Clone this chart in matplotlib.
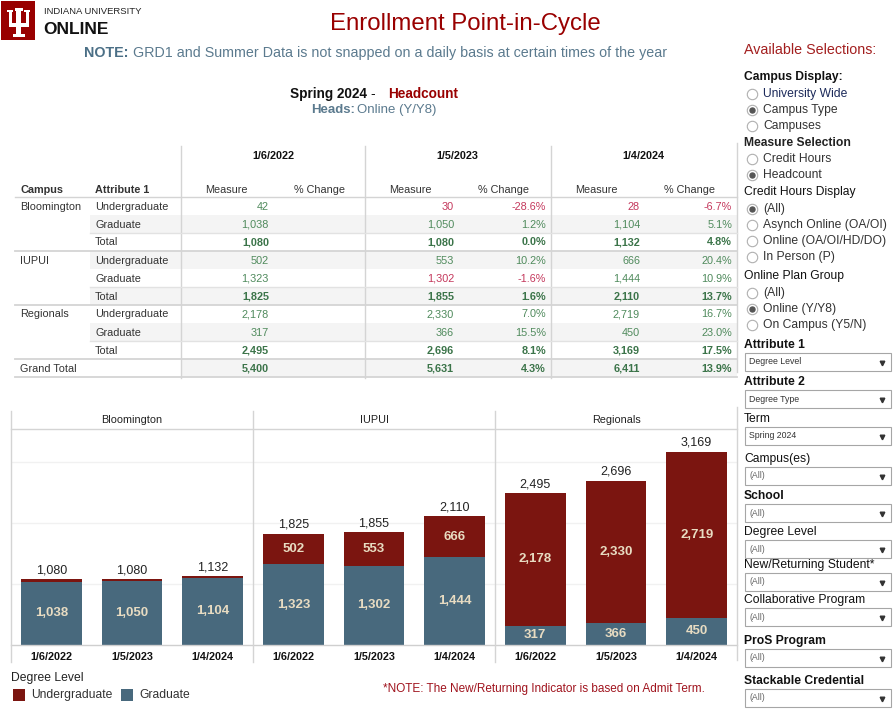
import matplotlib.pyplot as plt
from matplotlib.lines import Line2D
from matplotlib.patches import Rectangle

plt.rcParams['font.family'] = ['Liberation Sans', 'DejaVu Sans']

# ---- data ----
campuses = ["Bloomington", "IUPUI", "Regionals"]
snap_dates = ["1/6/2022", "1/5/2023", "1/4/2024"]
undergrad_bloomington = [42, 30, 28]
graduate_bloomington = [1038, 1050, 1104]
undergrad_iupui = [502, 553, 666]
graduate_iupui = [1323, 1302, 1444]
undergrad_regionals = [2178, 2330, 2719]
graduate_regionals = [317, 366, 450]

undergrad_by_campus = [undergrad_bloomington, undergrad_iupui, undergrad_regionals]
graduate_by_campus = [graduate_bloomington, graduate_iupui, graduate_regionals]

UG_COLOR = "#7b1510"
GR_COLOR = "#48697d"
IU_RED = "#990000"
GREEN = "#4f8a5c"
GREEN_BOLD = "#3b7449"
NEG_RED = "#c4385c"
LABEL = "#333333"
LINE = "#d4d4d4"
BAND = "#f4f4f4"

W, H = 896, 719
fig = plt.figure(figsize=(W / 100, H / 100), dpi=100)


def fx(x):
    return x / W


def fy(y):
    return 1 - y / H


def txt(x, y, s, **kw):
    kw.setdefault("va", "center")
    kw.setdefault("color", LABEL)
    return fig.text(fx(x), fy(y), s, **kw)


def hline(x0, x1, y, color=LINE, lw=1.0):
    fig.add_artist(Line2D([fx(x0), fx(x1)], [fy(y), fy(y)], color=color, lw=lw,
                          transform=fig.transFigure))


def vline(x, y0, y1, color=LINE, lw=1.0):
    fig.add_artist(Line2D([fx(x), fx(x)], [fy(y0), fy(y1)], color=color, lw=lw,
                          transform=fig.transFigure))


def rect(x0, y0, x1, y1, **kw):
    fig.add_artist(Rectangle((fx(x0), fy(y1)), fx(x1) - fx(x0), fy(y0) - fy(y1),
                             transform=fig.transFigure, **kw))


# ---- header / logo ----
rect(1, 1, 35, 40, facecolor=IU_RED, edgecolor="none")
for (a, b, c, d) in [(14.5, 8, 22.5, 10.5), (16, 10.5, 21, 34), (12.5, 34, 24.5, 37),
                     (7, 10, 13, 12), (8.5, 12, 11.5, 26), (24, 10, 30, 12),
                     (25.5, 12, 28.5, 26), (8.5, 23, 28.5, 27)]:
    rect(a, b, c, d, facecolor="white", edgecolor="none")
txt(44, 12, "INDIANA UNIVERSITY", fontsize=6.8, color="#222222")
txt(43, 30, "ONLINE", fontsize=12.5, fontweight="bold", color="#111111")

txt(465, 24, "Enrollment Point-in-Cycle", fontsize=17.3, color=IU_RED, ha="center")
txt(84, 53, "NOTE:", fontsize=10.3, fontweight="bold", color="#4b6f86")
txt(133, 53, "GRD1 and Summer Data is not snapped on a daily basis at certain times of the year",
    fontsize=10.3, color="#5b7a8e")

txt(290, 94, "Spring 2024", fontsize=9.8, fontweight="bold", color="#111111")
txt(370, 94, "-", fontsize=9.8, color="#111111")
txt(388, 94, "Headcount", fontsize=9.8, fontweight="bold", color=IU_RED)
txt(311, 110, "Heads:", fontsize=9.5, fontweight="bold", color="#5b7a8e")
txt(357, 110, "Online (Y/Y8)", fontsize=9.5, color="#5b7a8e")

# ---- crosstab ----
FS = 7.8
block_x = [181, 365, 551]
rows = []
for name, ug, gr in zip(campuses, undergrad_by_campus, graduate_by_campus):
    total = [u + g for u, g in zip(ug, gr)]
    rows.append((name, "Undergraduate", ug, False))
    rows.append(("", "Graduate", gr, False))
    rows.append(("", "Total", total, True))
grand = [sum(u[i] + g[i] for u, g in zip(undergrad_by_campus, graduate_by_campus))
         for i in range(len(snap_dates))]
rows.append(("Grand Total", "", grand, True))

row_h = 18
top = 197
for i in range(len(rows)):
    y0 = top + i * row_h
    if i == len(rows) - 1:
        rect(181, y0, 737, y0 + row_h, facecolor=BAND, edgecolor="none")
    elif i % 2 == 1:
        rect(90, y0, 737, y0 + row_h, facecolor=BAND, edgecolor="none")

for bx in block_x:
    vline(bx, 146, 378)
vline(737, 143, 372)
hline(15, 737, 197)
for g in range(3):
    y_sep = top + (g * 3 + 2) * row_h
    hline(90, 737, y_sep, color="#e2e2e2")
    hline(15, 737, y_sep + row_h, color=LINE, lw=1.3)
hline(15, 737, top + 10 * row_h, color=LINE, lw=1.3)

txt(20, 190, "Campus", fontsize=FS, fontweight="bold")
txt(95, 190, "Attribute 1", fontsize=FS, fontweight="bold")
for bx, d in zip(block_x, snap_dates):
    txt(bx + 92, 156, d, fontsize=FS, fontweight="bold", ha="center", color="#111111")
    txt(bx + 45, 190, "Measure", fontsize=FS, ha="center")
    txt(bx + 138, 190, "% Change", fontsize=FS, ha="center")

for i, (camp, attr, vals, bold) in enumerate(rows):
    yc = top + i * row_h + row_h / 2 + 0.5
    if camp:
        txt(20, yc, camp, fontsize=FS)
    if attr:
        txt(95, yc, attr, fontsize=FS)
    weight = "bold" if bold else "normal"
    for j, (bx, v) in enumerate(zip(block_x, vals)):
        if j == 0:
            col = GREEN_BOLD if bold else GREEN
            txt(bx + 88, yc, f"{v:,}", fontsize=FS, ha="right", color=col, fontweight=weight)
            continue
        pct = (v - vals[j - 1]) / vals[j - 1] * 100
        col = NEG_RED if pct < 0 else (GREEN_BOLD if bold else GREEN)
        txt(bx + 89, yc, f"{v:,}", fontsize=FS, ha="right", color=col, fontweight=weight)
        txt(bx + 181, yc, f"{pct:.1f}%", fontsize=FS, ha="right", color=col, fontweight=weight)

# ---- stacked bar panels ----
panel_left = 11
panel_w = 242
base_y = 645
plot_top = 429
ymax = 3541
positions = [0.5, 1.5, 2.5]

for k, (name, ug, gr) in enumerate(zip(campuses, undergrad_by_campus, graduate_by_campus)):
    x0 = panel_left + k * panel_w
    ax = fig.add_axes([fx(x0), fy(base_y), panel_w / W, (base_y - plot_top) / H])
    ax.set_xlim(0, 3)
    ax.set_ylim(0, ymax)
    for gy in (1000, 2000, 3000):
        ax.axhline(gy, color="#f1f1f1", lw=1, zorder=0)
    ax.bar(positions, gr, width=0.75, color=GR_COLOR, zorder=2)
    ax.bar(positions, ug, width=0.75, bottom=gr, color=UG_COLOR, zorder=2)
    for p, u, g in zip(positions, ug, gr):
        ax.text(p, g / 2, f"{g:,}", ha="center", va="center", fontsize=9.5,
                fontweight="bold", color="#e8dcc2", zorder=3)
        if u > 200:
            ax.text(p, g + u / 2, f"{u:,}", ha="center", va="center", fontsize=9.5,
                    fontweight="bold", color="#e8dcc2", zorder=3)
        ax.annotate(f"{u + g:,}", (p, u + g), xytext=(0, 2), textcoords="offset points",
                    ha="center", va="bottom", fontsize=9, color="#222222")
    ax.set_xticks(positions, snap_dates)
    ax.tick_params(axis="x", length=0, pad=5, labelsize=7.8)
    for lab in ax.get_xticklabels():
        lab.set_fontweight("bold")
        lab.set_color("#111111")
    ax.set_yticks([])
    ax.set_frame_on(False)
    txt(x0 + panel_w / 2, 420, name, fontsize=7.8, ha="center", color="#222222")

hline(11, 737, 429)
hline(11, 737, base_y, color="#cfcfcf")
for k in range(3):
    vline(panel_left + k * panel_w, 411, 662)
vline(737, 407, 660)

# legend and footnote
txt(11, 678, "Degree Level", fontsize=8.7, color="#222222")
rect(13, 689, 25, 701, facecolor=UG_COLOR, edgecolor="none")
txt(31, 695, "Undergraduate", fontsize=8.7)
rect(121, 689, 133, 701, facecolor=GR_COLOR, edgecolor="none")
txt(139, 695, "Graduate", fontsize=8.7)
txt(383, 689, "*NOTE: The New/Returning Indicator is based on Admit Term.", fontsize=8.5, color="#a0141e")

# ---- selections panel ----
txt(744, 50, "Available Selections:", fontsize=10.3, color="#a31f1f")


def radio(y, label, selected=False, color=LABEL):
    fig.add_artist(Line2D([fx(752)], [fy(y)], marker="o", markersize=7.5, mfc="white",
                          mec="#b0b0b0", mew=0.8, transform=fig.transFigure))
    if selected:
        fig.add_artist(Line2D([fx(752)], [fy(y)], marker="o", markersize=3.6, mfc="#555555",
                              mec="#555555", transform=fig.transFigure))
    txt(763, y, label, fontsize=8.7, color=color)


def dropdown(y, label, color=LABEL):
    rect(745, y - 9, 891, y + 9, facecolor="white", edgecolor="#a6a6a6", lw=0.8)
    txt(749, y, label, fontsize=6.3, color=color)
    fig.add_artist(Line2D([fx(882)], [fy(y + 0.5)], marker="v", markersize=3.3, color="#333333",
                          transform=fig.transFigure))


txt(744, 77, "Campus Display:", fontsize=8.7, fontweight="bold", color="#111111")
radio(94, "University Wide", color="#1c2a5a")
radio(110, "Campus Type", True)
radio(126, "Campuses")
txt(744, 143, "Measure Selection", fontsize=8.7, fontweight="bold", color="#222222")
radio(159, "Credit Hours")
radio(175, "Headcount", True)
txt(744, 192, "Credit Hours Display", fontsize=8.7, color="#111111")
radio(209, "(All)", True)
radio(225, "Asynch Online (OA/OI)")
radio(241, "Online (OA/OI/HD/DO)")
radio(257, "In Person (P)")
txt(744, 276, "Online Plan Group", fontsize=8.7, color="#111111")
radio(293, "(All)")
radio(309, "Online (Y/Y8)", True)
radio(325, "On Campus (Y5/N)")

filters = [
    (345, "Attribute 1", True, "Degree Level"),
    (382, "Attribute 2", True, "Degree Type"),
    (419, "Term", False, "Spring 2024"),
    (459, "Campus(es)", False, "(All)"),
    (496, "School", True, "(All)"),
    (532, "Degree Level", False, "(All)"),
    (565, "New/Returning Student*", False, "(All)"),
    (600, "Collaborative Program", False, "(All)"),
    (641, "ProS Program", True, "(All)"),
    (681, "Stackable Credential", True, "(All)"),
]
for y, title, bold, value in filters:
    txt(744, y, title, fontsize=8.7, fontweight="bold" if bold else "normal", color="#111111")
    dropdown(y + 17, value, color="#666666" if value == "(All)" else "#333333")

fig.savefig("out.png", dpi=100)
